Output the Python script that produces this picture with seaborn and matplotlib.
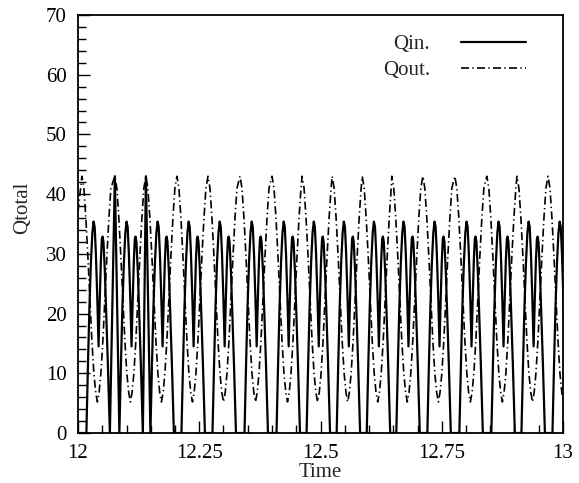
import numpy as np
import pandas as pd
import seaborn as sns
import matplotlib
matplotlib.use("Agg")
import matplotlib.pyplot as plt
from matplotlib.ticker import MultipleLocator, FixedLocator

# times of the Qout crests
qout_peak_t = [12.008, 12.076, 12.140, 12.204, 12.268, 12.334, 12.400, 12.462,
               12.524, 12.586, 12.647, 12.711, 12.777, 12.843, 12.905, 12.969]
# Qin at each Qout crest (first two cycles spike with Qout, later ones sit at 0)
qin_gap_peak = [0, 43, 43, 0, 0, 0, 0, 0, 0, 0, 0, 0, 0, 0, 0, 0]

# one Qout cycle, time after the crest
qout_off = [0.0, 0.0041, 0.0082, 0.0124, 0.0165, 0.0206, 0.0247, 0.0285,
            0.0320, 0.0355, 0.0392, 0.0433, 0.0474, 0.0515, 0.0557, 0.0598]
qout_val = [43.0, 41.0, 36.0, 29.5, 22.5, 15.5, 10.0, 6.8,
            5.2, 6.8, 10.0, 15.5, 22.5, 29.5, 36.0, 41.0]
qout_start = 37.0  # Qout at t = 12

# one Qin hump, time after the Qout crest
qin_off = [0.0093, 0.0124, 0.0155, 0.0186, 0.0216, 0.0241, 0.0264, 0.0289, 0.0320,
           0.0344, 0.0367, 0.0392, 0.0412, 0.0427, 0.0445, 0.0474, 0.0505, 0.0536,
           0.0567, 0.0577]
qin_val = [0.0, 11.0, 21.0, 28.5, 33.5, 35.4, 34.5, 30.0, 22.0,
           14.5, 22.0, 29.0, 32.5, 32.9, 32.0, 27.0, 19.5, 11.5,
           3.0, 0.0]

xtick_vals = [12, 12.25, 12.5, 12.75, 13]
xtick_labels = ["12", "12.25", "12.5", "12.75", "13"]

# build the two series from the read cycles
qout_t, qout_v = [12.0], [qout_start]
qin_t, qin_v = [12.0], [0.0]
for tp, g in zip(qout_peak_t, qin_gap_peak):
    qout_t += [tp + o for o in qout_off]
    qout_v += qout_val
    if g > 0:
        qin_t.append(tp)
        qin_v.append(g)
    qin_t += [tp + o for o in qin_off]
    qin_v += qin_val

df_in = pd.DataFrame({"Time": qin_t, "Qtotal": qin_v})
df_out = pd.DataFrame({"Time": qout_t, "Qtotal": qout_v})

sns.set_style("ticks")
plt.rcParams["font.family"] = ["Liberation Serif", "DejaVu Serif"]
plt.rcParams["font.size"] = 15

fig = plt.figure(figsize=(5.79, 4.83), dpi=100)
ax = fig.add_axes([78 / 579, 50 / 483, 485 / 579, 418 / 483])

sns.lineplot(data=df_in, x="Time", y="Qtotal", ax=ax, color="black",
             linewidth=1.6, estimator=None, sort=False, label="Qin.")
sns.lineplot(data=df_out, x="Time", y="Qtotal", ax=ax, color="black",
             linewidth=1.2, estimator=None, sort=False, label="Qout.",
             linestyle=(0, (4.8, 2.0, 0.8, 2.0)))

ax.set_xlim(12, 13)
ax.set_ylim(0, 70)
ax.xaxis.set_major_locator(FixedLocator(xtick_vals))
ax.set_xticklabels(xtick_labels)
ax.xaxis.set_minor_locator(MultipleLocator(0.05))
ax.yaxis.set_major_locator(MultipleLocator(10))
ax.yaxis.set_minor_locator(MultipleLocator(2))
ax.tick_params(which="both", direction="in", top=False, right=False,
               colors="black", labelsize=15, width=1.0)
ax.tick_params(which="major", length=8.5, pad=8)
ax.tick_params(which="minor", length=5.5)

for sp in ax.spines.values():
    sp.set_linewidth(1.3)
    sp.set_color("black")

ax.set_xlabel("Time", fontsize=15)
ax.set_ylabel("Qtotal", fontsize=15)
ax.xaxis.set_label_coords(0.5, -0.072)
ax.yaxis.set_label_coords(-0.095, 0.538)

ax.legend(loc="upper right", bbox_to_anchor=(0.962, 0.998), frameon=False,
          markerfirst=False, handlelength=3.1, handletextpad=1.5,
          labelspacing=0.3, fontsize=15, borderpad=0.4)

fig.savefig("out.png", dpi=100)
